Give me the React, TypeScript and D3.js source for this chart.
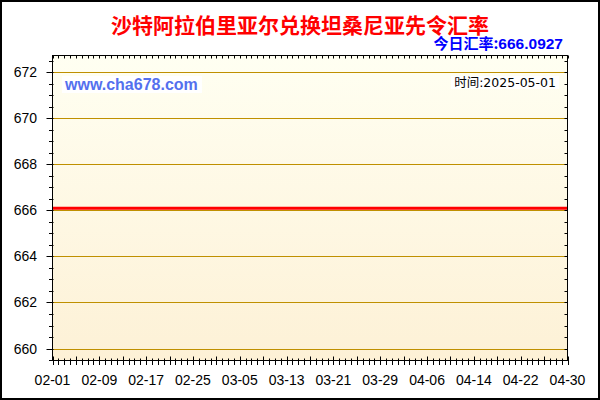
import * as d3 from 'd3';

// chart values
const TITLE = '沙特阿拉伯里亚尔兑换坦桑尼亚先令汇率';
const TODAY_RATE = '666.0927';
const UPDATE_TIME = '2025-05-01';
const SITE = 'www.cha678.com';

const X_LABELS = ['02-01', '02-09', '02-17', '02-25', '03-05', '03-13', '03-21', '03-29', '04-06', '04-14', '04-22', '04-30'];
const RATE_DATES = ['2025-02-01', '2025-02-09', '2025-02-17', '2025-02-25', '2025-03-05', '2025-03-13', '2025-03-21', '2025-03-29', '2025-04-06', '2025-04-14', '2025-04-22', '2025-04-30'];
const RATE_VALUES = [666.0927, 666.0927, 666.0927, 666.0927, 666.0927, 666.0927, 666.0927, 666.0927, 666.0927, 666.0927, 666.0927, 666.0927];
const Y_TICKS = [660, 662, 664, 666, 668, 670, 672];

const W = 600;
const H = 400;
const plot = { left: 52.5, right: 567.5, top: 55.5, bottom: 360.5 };

const LATIN = '"Liberation Sans", Arial, sans-serif';
const CJK = '"Noto Sans CJK SC", "Liberation Sans", sans-serif';

export default function App() {
  const parse = d3.utcParse('%Y-%m-%d');
  const start = parse(RATE_DATES[0])!;
  const end = parse(RATE_DATES[RATE_DATES.length - 1])!;

  const x = d3.scaleUtc().domain([start, end]).range([plot.left, plot.right]);
  const y = d3.scaleLinear().domain([659.48, 672.73]).range([plot.bottom, plot.top]);

  const days = d3.utcDay.range(start, d3.utcDay.offset(end, 1));
  const halfSteps = d3.range(659.5, 672.75, 0.5);

  const line = d3.line<number>()
    .x((_, i) => x(parse(RATE_DATES[i])!))
    .y(v => y(v));

  const labelDate = (s: string) => parse(`2025-${s}`)!;

  return (
    <svg width={W} height={H} style={{ position: 'absolute', left: 0, top: 0 }}>
      <defs>
        <linearGradient id="bg" x1="0" y1="0" x2="0" y2="1">
          <stop offset="0%" stopColor="#FFFFF2" />
          <stop offset="100%" stopColor="#FDF1D6" />
        </linearGradient>
      </defs>
      <rect x={0} y={0} width={W} height={H} fill="#fff" />
      <rect x={1} y={1} width={W - 2} height={H - 2} fill="none" stroke="#000" strokeWidth={2} />

      {/* plot area */}
      <rect x={plot.left} y={plot.top} width={plot.right - plot.left} height={plot.bottom - plot.top} fill="url(#bg)" />

      {/* grid */}
      {Y_TICKS.map(t => (
        <line key={t} x1={plot.left} x2={plot.right} y1={Math.round(y(t)) + 0.5} y2={Math.round(y(t)) + 0.5} stroke="#BF9000" strokeWidth={1} />
      ))}

      {/* rate line */}
      <path d={line(RATE_VALUES) ?? ''} fill="none" stroke="#FF0000" strokeWidth={3} />

      {/* watermark */}
      <rect x={62} y={76} width={140} height={17} fill="#fff" />
      <text x={65} y={90} fontSize={16} fontWeight={700} fontFamily={LATIN} fill="#5470EE">{SITE}</text>

      <rect x={451} y={76} width={108} height={13} fill="#fff" />
      <text x={556} y={87} textAnchor="end" fontSize={12.5} fontFamily={'"DejaVu Sans", "Noto Sans CJK SC", sans-serif'} fill="#000">
        时间:{UPDATE_TIME}
      </text>

      {/* axes frame */}
      <rect x={plot.left} y={plot.top} width={plot.right - plot.left} height={plot.bottom - plot.top} fill="none" stroke="#000" strokeWidth={1} />

      {/* left and right axis ticks */}
      {halfSteps.map(v => {
        const major = Math.abs(v % 2) < 1e-6;
        const yy = Math.round(y(v)) + 0.5;
        return (
          <g key={`l${v}`}>
            <line x1={major ? 46.5 : 49} x2={53.5} y1={yy} y2={yy} stroke="#000" />
            <line x1={plot.right - 3} x2={plot.right} y1={yy} y2={yy} stroke="#000" />
          </g>
        );
      })}
      {Y_TICKS.map(t => (
        <text key={`yl${t}`} x={37} y={y(t)} textAnchor="end" dominantBaseline="central" fontSize={14} fontFamily={LATIN} fill="#000">
          {t}
        </text>
      ))}

      {/* bottom / top ticks */}
      {days.map((d, i) => {
        const xx = Math.round(x(d)) + 0.5;
        const major = i % 4 === 0;
        return (
          <g key={`d${i}`}>
            <line x1={xx} x2={xx} y1={plot.bottom - (major ? 4 : 2)} y2={plot.bottom + 4.5} stroke="#000" />
            <line x1={xx} x2={xx} y1={plot.top} y2={plot.top + 3} stroke="#000" />
          </g>
        );
      })}
      {X_LABELS.map(s => (
        <text key={s} x={x(labelDate(s))} y={385} textAnchor="middle" fontSize={14} fontFamily={LATIN} fill="#000">
          {s}
        </text>
      ))}

      {/* titles */}
      <text x={300} y={32.5} textAnchor="middle" fontSize={21} fontWeight={700} fontFamily={CJK} fill="#FF0000">
        {TITLE}
      </text>
      <text x={563} y={48.5} textAnchor="end" fontSize={15} fontWeight={700} fontFamily={CJK} fill="#0000FF">
        今日汇率:<tspan fontFamily={LATIN} fontSize={15.5}>{TODAY_RATE}</tspan>
      </text>
    </svg>
  );
}
